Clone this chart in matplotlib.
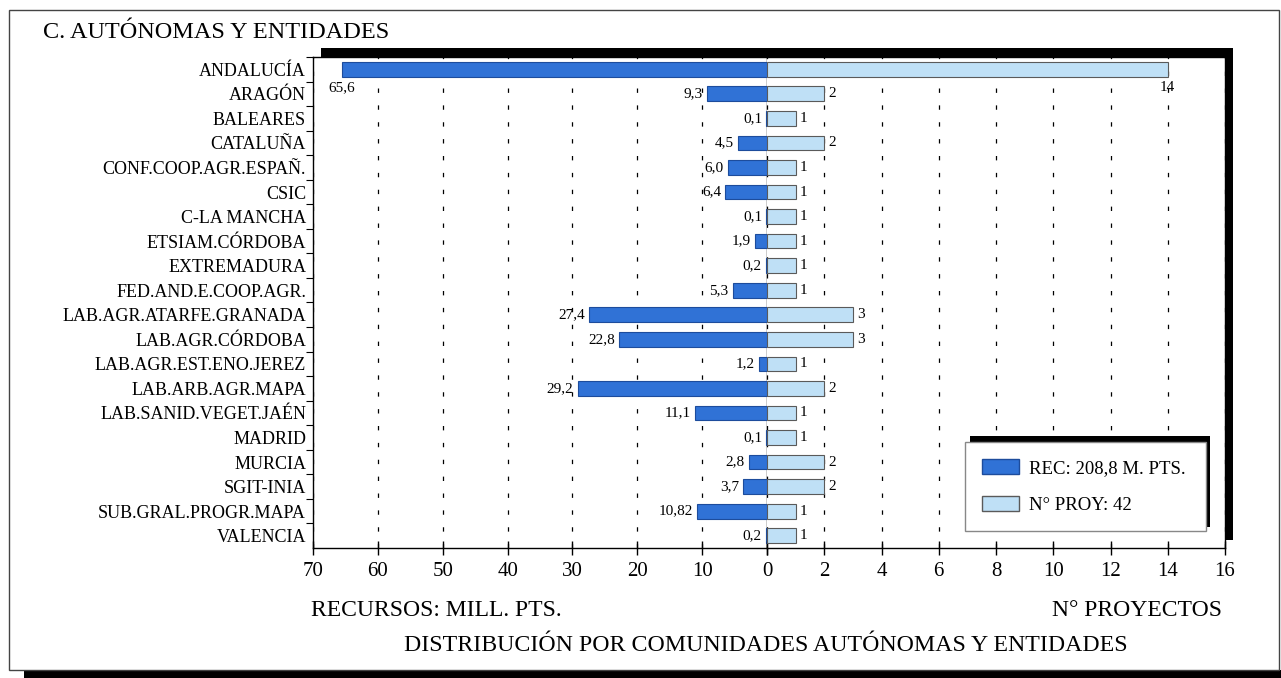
import matplotlib
matplotlib.use('Agg')
import matplotlib.pyplot as plt
from matplotlib.patches import Rectangle, Patch

plt.rcParams['font.family'] = ['Liberation Serif', 'DejaVu Serif']

# datos
entidades = ['ANDALUCÍA', 'ARAGÓN', 'BALEARES', 'CATALUÑA', 'CONF.COOP.AGR.ESPAÑ.',
             'CSIC', 'C-LA MANCHA', 'ETSIAM.CÓRDOBA', 'EXTREMADURA',
             'FED.AND.E.COOP.AGR.', 'LAB.AGR.ATARFE.GRANADA', 'LAB.AGR.CÓRDOBA',
             'LAB.AGR.EST.ENO.JEREZ', 'LAB.ARB.AGR.MAPA', 'LAB.SANID.VEGET.JAÉN',
             'MADRID', 'MURCIA', 'SGIT-INIA', 'SUB.GRAL.PROGR.MAPA', 'VALENCIA']
recursos = [65.6, 9.3, 0.1, 4.5, 6.0, 6.4, 0.1, 1.9, 0.2, 5.3,
            27.4, 22.8, 1.2, 29.2, 11.1, 0.1, 2.8, 3.7, 10.82, 0.2]
recursos_txt = ['65,6', '9,3', '0,1', '4,5', '6,0', '6,4', '0,1', '1,9', '0,2', '5,3',
                '27,4', '22,8', '1,2', '29,2', '11,1', '0,1', '2,8', '3,7', '10,82', '0,2']
proyectos = [14, 2, 1, 2, 1, 1, 1, 1, 1, 1, 3, 3, 1, 2, 1, 1, 2, 2, 1, 1]
ticks_rec = [70, 60, 50, 40, 30, 20, 10, 0]
ticks_proy = [0, 2, 4, 6, 8, 10, 12, 14, 16]

azul = '#3072d6'
azul_borde = '#1d4c9c'
celeste = '#bfe0f6'
celeste_borde = '#5a5a5a'

W, H = 1281, 678
fig = plt.figure(figsize=(W / 100, H / 100), dpi=100)

def fx(px):
    return px / W

def fy(py):
    return 1 - py / H

# marco exterior y sombra
fig.patches.append(Rectangle((fx(24), fy(678)), fx(1257), 8 / H, transform=fig.transFigure,
                             facecolor='black', edgecolor='none', zorder=-2))
fig.patches.append(Rectangle((fx(9), fy(670)), fx(1270), 660 / H, transform=fig.transFigure,
                             facecolor='none', edgecolor='#444444', lw=1, zorder=-2))
# sombra del area del grafico
fig.patches.append(Rectangle((fx(321), fy(540)), fx(912), 492 / H, transform=fig.transFigure,
                             facecolor='black', edgecolor='none', zorder=-1))

top, bot = 57, 548
axl = fig.add_axes([fx(313), fy(bot), fx(767 - 313), (bot - top) / H])
axr = fig.add_axes([fx(767), fy(bot), fx(1225 - 767), (bot - top) / H], sharey=axl)

y = list(range(len(entidades)))
bl = axl.barh(y, recursos, height=0.6, color=azul, edgecolor=azul_borde, lw=0.8, zorder=3)
br = axr.barh(y, proyectos, height=0.6, color=celeste, edgecolor=celeste_borde, lw=0.8, zorder=3)

axl.set_xlim(70, 0)
axr.set_xlim(0, 16)
axl.set_ylim(len(entidades) - 0.5, -0.5)

axl.set_xticks(ticks_rec)
axr.set_xticks(ticks_proy)
axl.set_yticks(y)
axl.set_yticklabels(entidades, fontsize=13)
axl.set_yticks([i + 0.5 for i in range(-1, len(entidades) - 1)], minor=True)
axl.tick_params(axis='y', which='major', length=0, pad=5)
axl.tick_params(axis='y', which='minor', length=5, direction='out', width=0.8)
axr.tick_params(axis='y', which='both', left=False, labelleft=False)
for ax in (axl, axr):
    ax.tick_params(axis='x', direction='inout', length=10, width=1, labelsize=15, pad=5)
    ax.grid(axis='x', color='black', lw=0.9, ls=(0, (3.5, 10)))
    ax.set_axisbelow(True)
    for s in ax.spines.values():
        s.set_color('black')
        s.set_linewidth(1)
axr.spines['left'].set_visible(False)
axr.xaxis.get_major_ticks()[0].label1.set_visible(False)

# etiquetas de valores
for i, (v, t, p) in enumerate(zip(recursos, recursos_txt, proyectos)):
    if i == 0:
        axl.annotate(t, (v, i), xytext=(0, -13), textcoords='offset points',
                     ha='center', va='center', fontsize=11)
        axr.annotate(str(p), (p, i), xytext=(0, -13), textcoords='offset points',
                     ha='center', va='center', fontsize=11)
    else:
        axl.annotate(t, (v, i), xytext=(-3, 0), textcoords='offset points',
                     ha='right', va='center', fontsize=11)
        axr.annotate(str(p), (p, i), xytext=(3, 0), textcoords='offset points',
                     ha='left', va='center', fontsize=11)

# textos
fig.text(fx(43), fy(38), 'C. AUTÓNOMAS Y ENTIDADES', fontsize=17.5, va='baseline')
fig.text(fx(311), fy(616), 'RECURSOS: MILL. PTS.', fontsize=17, va='baseline')
fig.text(fx(1222), fy(616), 'N° PROYECTOS', fontsize=17, va='baseline', ha='right')
fig.text(fx(766), fy(651), 'DISTRIBUCIÓN POR COMUNIDADES AUTÓNOMAS Y ENTIDADES',
         fontsize=17.2, va='baseline', ha='center')

# leyenda con sombra
fig.patches.append(Rectangle((fx(970), fy(527)), fx(240), 91 / H, transform=fig.transFigure,
                             facecolor='black', edgecolor='none', zorder=4))
handles = [Patch(facecolor=azul, edgecolor=azul_borde), Patch(facecolor=celeste, edgecolor=celeste_borde)]
leg = fig.legend(handles, ['REC: 208,8 M. PTS.', 'N° PROY: 42'], loc='center',
                 bbox_to_anchor=(fx(965), fy(532), fx(241), 91 / H), mode='expand',
                 borderaxespad=0, fontsize=13.5, handlelength=2.0, handleheight=0.85,
                 labelspacing=1.05, borderpad=0.9, handletextpad=0.5, fancybox=False,
                 framealpha=1, edgecolor='#888888')
leg.get_frame().set_linewidth(1)

fig.savefig('out.png', dpi=100)
